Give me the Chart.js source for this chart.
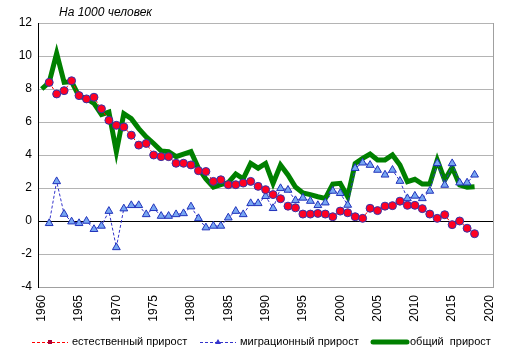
<!DOCTYPE html>
<html>
<head>
<meta charset="utf-8">
<script src="https://cdn.jsdelivr.net/npm/chart.js@4/dist/chart.umd.min.js"></script>
<style>
  html, body { margin: 0; padding: 0; background: #fff; }
  #wrap { width: 512px; height: 358px; position: relative; }
</style>
</head>
<body>
<div id="wrap"><canvas id="growthChart"></canvas></div>
<script>
const years = [];
for (let y = 1960; y <= 2018; y++) years.push(y);

const xTickLabels = [1960, 1965, 1970, 1975, 1980, 1985, 1990, 1995, 2000, 2005, 2010, 2015, 2020];
const yTickLabels = [-4, -2, 0, 2, 4, 6, 8, 10, 12];

// естественный прирост
const natural = [null, 8.4, 7.7, 7.9, 8.5, 7.6, 7.4, 7.5, 6.8, 6.1,
  5.8, 5.7, 5.2, 4.6, 4.7, 4.0, 3.9, 3.9, 3.5, 3.5,
  3.4, 3.05, 3.0, 2.4, 2.5, 2.2, 2.2, 2.3, 2.4, 2.1,
  1.9, 1.6, 1.35, 0.9, 0.8, 0.42, 0.42, 0.46, 0.42, 0.26,
  0.6, 0.5, 0.26, 0.16, 0.77, 0.63, 0.9, 0.93, 1.2, 0.95,
  0.95, 0.75, 0.42, 0.16, 0.38, -0.22, 0.0, -0.44, -0.77];

// миграционный прирост
const migration = [null, -0.14, 2.4, 0.42, -0.04, -0.14, 0.0, -0.5, -0.3, 0.6,
  -1.6, 0.75, 0.95, 0.95, 0.4, 0.77, 0.3, 0.3, 0.4, 0.46,
  0.87, 0.16, -0.4, -0.3, -0.3, 0.2, 0.6, 0.4, 1.07, 1.07,
  1.5, 0.77, 1.98, 1.88, 1.25, 1.4, 1.21, 0.95, 1.11, 1.82,
  1.68, 0.97, 3.2, 3.53, 3.39, 3.09, 2.8, 3.09, 2.42, 1.37,
  1.52, 1.37, 1.82, 3.5, 2.18, 3.49, 2.32, 2.32, 2.8];

// общий прирост
const total = [8.0, 8.4, 10.16, 8.4, 8.45, 7.55, 7.43, 7.13, 6.45, 6.6,
  4.2, 6.5, 6.2, 5.6, 5.1, 4.7, 4.25, 4.2, 3.9, 4.05,
  4.2, 3.2, 2.55, 2.05, 2.2, 2.32, 2.85, 2.55, 3.49, 3.2,
  3.49, 2.28, 3.39, 2.79, 2.06, 1.7, 1.6, 1.47, 1.37, 2.24,
  2.28, 1.47, 3.49, 3.8, 4.06, 3.7, 3.7, 4.0, 3.39, 2.38,
  2.53, 2.24, 2.24, 3.7, 2.48, 3.25, 2.18, 2.04, 2.08];

function toPoints(values) {
  return years.map((y, i) => ({ x: y, y: values[i] }));
}

const FONT = "Arial, 'Liberation Sans', sans-serif";

// Frame, title and legend drawn by hand
const decor = {
  id: "decor",
  afterDraw(chart) {
    const c = chart.ctx;
    const a = chart.chartArea;
    c.save();
    // right border
    c.strokeStyle = "#a0a0a0";
    c.lineWidth = 1;
    c.beginPath();
    c.moveTo(Math.round(a.right) + 0.5, a.top);
    c.lineTo(Math.round(a.right) + 0.5, a.bottom);
    c.stroke();

    // title
    c.fillStyle = "#000";
    c.font = "italic 12px " + FONT;
    c.textBaseline = "middle";
    c.textAlign = "left";
    c.fillText("На 1000 человек", 59, 13);

    // legend
    const ly = 342;
    c.font = "11px " + FONT;
    // natural
    c.strokeStyle = "#ff0000";
    c.setLineDash([3, 2]);
    c.beginPath(); c.moveTo(32, ly + 0.5); c.lineTo(68, ly + 0.5); c.stroke();
    c.setLineDash([]);
    c.fillStyle = "#aa0033";
    c.fillRect(48, ly - 2, 4, 4);
    c.fillStyle = "#000";
    c.fillText("естественный прирост", 72, ly);
    // migration
    c.strokeStyle = "#3333cc";
    c.setLineDash([3, 2]);
    c.beginPath(); c.moveTo(200, ly + 0.5); c.lineTo(236, ly + 0.5); c.stroke();
    c.setLineDash([]);
    c.fillStyle = "#3333cc";
    c.beginPath(); c.moveTo(218, ly - 3); c.lineTo(221, ly + 2); c.lineTo(215, ly + 2); c.closePath(); c.fill();
    c.fillStyle = "#000";
    c.fillText("миграционный прирост", 240, ly);
    // total
    c.strokeStyle = "#008000";
    c.lineWidth = 5;
    c.lineCap = "round";
    c.beginPath(); c.moveTo(373, ly); c.lineTo(407, ly); c.stroke();
    c.fillStyle = "#000";
    c.fillText("общий  прирост", 410, ly);
    c.restore();
  }
};

const ctx = document.getElementById("growthChart").getContext("2d");
new Chart(ctx, {
  type: "line",
  data: {
    datasets: [
      {
        label: "естественный прирост",
        data: toPoints(natural),
        borderColor: "#ff0000",
        borderWidth: 1,
        borderDash: [3, 2],
        pointStyle: "circle",
        pointRadius: 4,
        pointBackgroundColor: "#ff0022",
        pointBorderColor: "#3333aa",
        pointBorderWidth: 1,
        spanGaps: false,
      },
      {
        label: "миграционный прирост",
        data: toPoints(migration),
        borderColor: "#3333cc",
        borderWidth: 1,
        borderDash: [3, 2],
        pointStyle: "triangle",
        pointRadius: 4.5,
        pointBackgroundColor: "#77a6f2",
        pointBorderColor: "#2233bb",
        pointBorderWidth: 1,
      },
      {
        label: "общий прирост",
        data: toPoints(total),
        borderColor: "#008000",
        borderWidth: 5,
        pointRadius: 0,
        tension: 0,
      },
    ],
  },
  options: {
    responsive: true,
    maintainAspectRatio: false,
    animation: false,
    layout: { padding: { top: 23, right: 14, bottom: 31, left: 0 } },
    plugins: {
      legend: { display: false },
      tooltip: { enabled: false },
    },
    scales: {
      x: {
        type: "linear",
        min: 1959.5,
        max: 2020.5,
        afterBuildTicks: (scale) => {
          scale.ticks = xTickLabels.map((v) => ({ value: v }));
        },
        afterFit: (scale) => { scale.height = 40; },
        ticks: {
          autoSkip: false,
          minRotation: 90,
          maxRotation: 90,
          padding: 8,
          color: "#000",
          font: { family: FONT, size: 12 },
          callback: (v) => String(v),
        },
        grid: { display: false, drawTicks: false },
        border: { display: true, color: "#a0a0a0" },
      },
      y: {
        min: -4,
        max: 12,
        afterBuildTicks: (scale) => {
          scale.ticks = yTickLabels.map((v) => ({ value: v }));
        },
        afterFit: (scale) => { scale.width = 38; },
        ticks: {
          padding: 6,
          color: "#000",
          font: { family: FONT, size: 12 },
        },
        grid: {
          drawTicks: false,
          color: (c) => (c.tick && c.tick.value === 0 ? "#000" : "#b4b4b4"),
          lineWidth: 1,
        },
        border: { display: true, color: "#000" },
      },
    },
  },
  plugins: [decor],
});
</script>
</body>
</html>
